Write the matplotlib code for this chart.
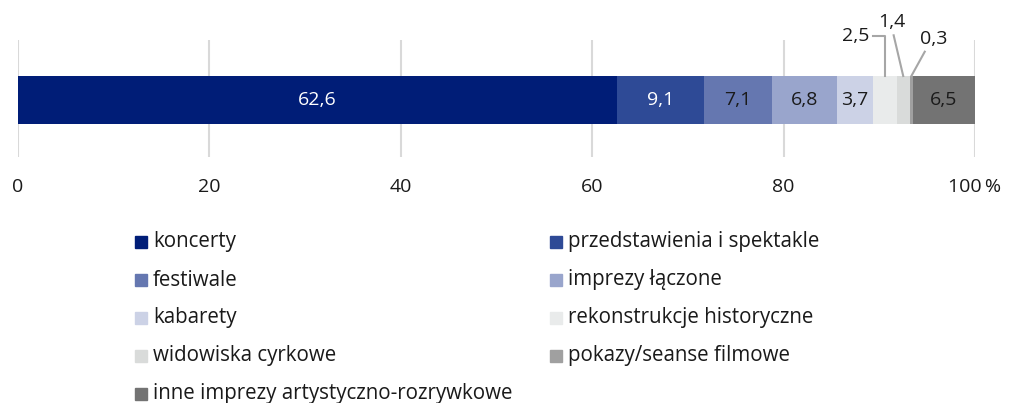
import matplotlib
matplotlib.use("Agg")
from matplotlib import pyplot as plt

plt.rcParams['font.family'] = ['Open Sans', 'DejaVu Sans']

# data
categories = ["koncerty", "przedstawienia i spektakle", "festiwale", "imprezy łączone",
              "kabarety", "rekonstrukcje historyczne", "widowiska cyrkowe",
              "pokazy/seanse filmowe", "inne imprezy artystyczno-rozrywkowe"]
values = [62.6, 9.1, 7.1, 6.8, 3.7, 2.5, 1.4, 0.3, 6.5]
colors = ["#001d77", "#2e4a96", "#6577b0", "#99a5cc", "#ccd2e6",
          "#e9ebeb", "#d9dbda", "#a0a0a0", "#737373"]
label_colors = ["white", "white", "#1a1a1a", "#1a1a1a", "#1a1a1a",
                None, None, None, "#1a1a1a"]
xticks = [0, 20, 40, 60, 80, 100]
xtick_labels = ["0", "20", "40", "60", "80", "100\u2009%"]

W, H = 1013, 403
fig = plt.figure(figsize=(W / 100, H / 100), dpi=100)
ax = fig.add_axes([18 / W, 1 - 157 / H, (975 - 18) / W, 117 / H])

bar_y = (157 - 100) / 117
bar_h = 48 / 117
left = 0
centers = []
for v, c, lc in zip(values, colors, label_colors):
    ax.barh(bar_y, v, left=left, height=bar_h, color=c, zorder=3)
    centers.append(left + v / 2)
    if lc is not None:
        ax.text(left + v / 2, bar_y, f"{v:.1f}".replace(".", ","), ha="center",
                va="center", color=lc, fontsize=14, zorder=4)
    left += v

bar_top = bar_y + bar_h / 2
# small segment labels with leader lines
lc_line = "#a6a6a6"
fs = 14
# 2,5
x5 = centers[5]
ax.plot([x5 - 1.2, x5, x5], [1.03, 1.03, bar_top], color=lc_line, lw=1.5,
        clip_on=False, zorder=5)
ax.text(x5 - 1.6, 1.03, f"{values[5]:.1f}".replace(".", ","), ha="right",
        va="center", fontsize=fs, color="#1a1a1a")
# 1,4
x6 = centers[6]
ax.plot([x6 - 1.0, x6], [1.04, bar_top], color=lc_line, lw=1.5,
        clip_on=False, zorder=5)
ax.text(x6 - 1.2, 1.08, f"{values[6]:.1f}".replace(".", ","), ha="center",
        va="bottom", fontsize=fs, color="#1a1a1a")
# 0,3
x7 = centers[7]
ax.plot([x7, x7 + 1.4], [bar_top, 0.9], color=lc_line, lw=1.5,
        clip_on=False, zorder=5)
ax.text(x7 + 0.9, 0.93, f"{values[7]:.1f}".replace(".", ","), ha="left",
        va="bottom", fontsize=fs, color="#1a1a1a")

ax.set_xlim(0, 100)
ax.set_ylim(0, 1)
ax.set_xticks(xticks)
ax.set_xticklabels(xtick_labels, fontsize=14, color="#1a1a1a")
ax.set_yticks([])
ax.tick_params(axis="x", length=0, pad=15)
ax.grid(axis="x", color="#d9d9d9", lw=1.5, zorder=0)
for s in ax.spines.values():
    s.set_visible(False)

# legend, two columns, row-major
col_x = [135 / W, 550 / W]
row_y0 = 242
row_step = 38
for i, (name, c) in enumerate(zip(categories, colors)):
    r, col = divmod(i, 2)
    y = 1 - (row_y0 + r * row_step) / H
    fig.patches.append(plt.Rectangle((col_x[col], y - 6 / H), 12 / W, 12 / H,
                                     transform=fig.transFigure, color=c))
    fig.text(col_x[col] + 18 / W, y, name, ha="left", va="center",
             fontsize=14.8, color="#1a1a1a")

fig.savefig("out.png", dpi=100)
